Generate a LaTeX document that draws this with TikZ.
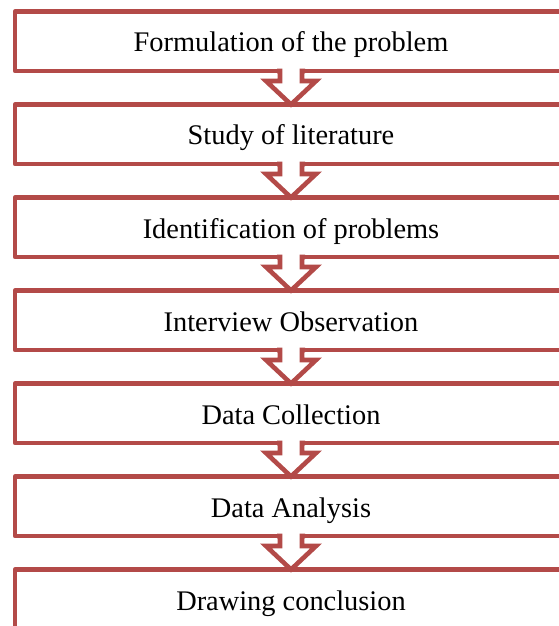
\documentclass[tikz,border=0pt]{standalone}
\usepackage{fontspec}
\setmainfont{Liberation Serif}
\definecolor{boxred}{RGB}{179,74,72}
\tikzset{
  stepbox/.style={draw=boxred, line width=4.6bp, line join=round, fill=white,
    minimum width=552bp, inner xsep=0pt, inner ysep=19bp, outer sep=0pt,
    text height=21.5bp, text depth=0pt, align=center,
    font=\fontsize{28.5}{31}\selectfont},
  flowarrow/.style={draw=boxred, fill=white, line width=4.6bp, line join=miter}
}
\begin{document}
\begin{tikzpicture}[x=1bp,y=-1bp]
\useasboundingbox (0,0) rectangle (559,626);
\clip (0,0) rectangle (559,626);
\node[stepbox] (b1) at (291,41.25)  {Formulation of the problem};
\node[stepbox] (b2) at (291,134.25) {Study of literature};
\node[stepbox] (b3) at (291,227.25) {Identification of problems};
\node[stepbox] (b4) at (291,320.25) {Interview Observation};
\node[stepbox] (b5) at (291,413.25) {Data Collection};
\node[stepbox] (b6) at (291,506.25) {Data Analysis};
\node[stepbox] (b7) at (291,599.25) {Drawing conclusion};
\foreach \a/\b in {b1/b2,b2/b3,b3/b4,b4/b5,b5/b6,b6/b7}{
  \fill[white] ([shift={(-11bp,3bp)}]\a.south) rectangle ([shift={(11bp,-3bp)}]\a.south);
  \path[flowarrow] ([xshift=-14bp]\a.south) -- ([xshift=-11bp]\a.south)
    -- ([shift={(-11bp,-10bp)}]\a.south) -- ([shift={(-25bp,-10bp)}]\a.south)
    -- (\b.north) -- ([shift={(25bp,-10bp)}]\a.south)
    -- ([shift={(11bp,-10bp)}]\a.south) -- ([xshift=11bp]\a.south)
    -- ([xshift=14bp]\a.south);
}
\end{tikzpicture}
\end{document}
